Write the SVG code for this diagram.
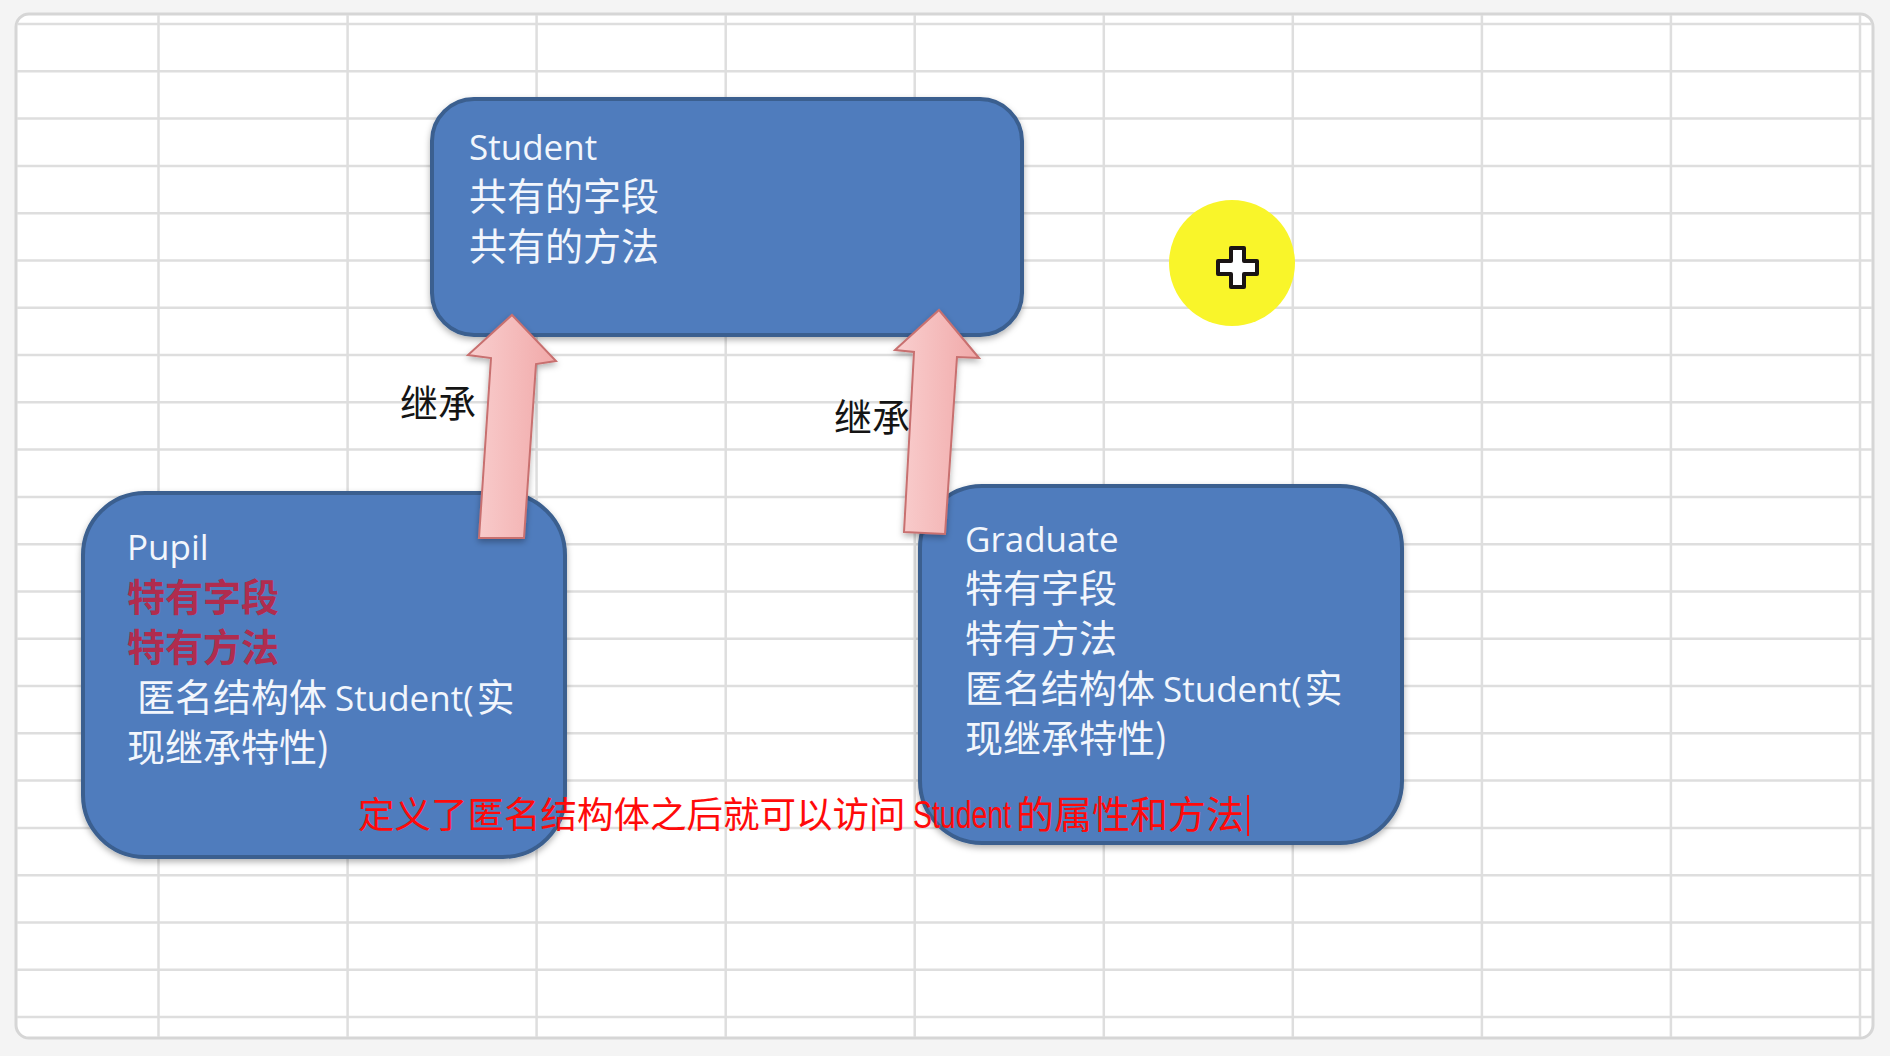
<svg xmlns="http://www.w3.org/2000/svg" width="1890" height="1056" viewBox="0 0 1890 1056">
  <style>
    .grid line { stroke: #dedede; stroke-width: 2.5; }
    .box { fill: #4f7bbd; stroke: #3a5f8f; stroke-width: 4; }
    .lat { font-family: "Open Sans", "Noto Sans", sans-serif; font-size: 35px; fill: #f2f6fc; }
    .cjk { font-family: "Noto Sans CJK SC", sans-serif; font-size: 38px; fill: #f2f6fc; }
    .red { fill: #b02c4e; font-weight: bold; }
    .lbl { font-family: "Noto Sans CJK SC", sans-serif; font-size: 38px; fill: #141414; }
    .arrow { fill: url(#pink); stroke: #c8706f; stroke-width: 2; }
    .cap { font-family: "Noto Sans CJK SC", sans-serif; font-size: 36.5px; fill: #ff0a0a; }
    .capl { font-family: "Liberation Sans", Arial, sans-serif; font-size: 38px; fill: #ff0a0a; }
  </style>
  <defs>
    <linearGradient id="pink" x1="0" y1="0" x2="1" y2="0">
      <stop offset="0" stop-color="#f9cfcf"/>
      <stop offset="1" stop-color="#f1a9a9"/>
    </linearGradient>
    <filter id="sh" x="-10%" y="-10%" width="120%" height="125%">
      <feDropShadow dx="0" dy="3" stdDeviation="3" flood-color="#000" flood-opacity="0.3"/>
    </filter>
    <clipPath id="frameClip">
      <rect x="17" y="15" width="1855" height="1022" rx="12"/>
    </clipPath>
  </defs>

  <rect x="0" y="0" width="1890" height="1056" fill="#f4f4f4"/>
  <rect x="16" y="14" width="1857" height="1024" rx="13" fill="#ffffff" stroke="#d6d6d6" stroke-width="3"/>

  <g class="grid" clip-path="url(#frameClip)">
    <line x1="17" y1="24" x2="1872" y2="24"/>
    <line x1="17" y1="71.3" x2="1872" y2="71.3"/>
    <line x1="17" y1="118.6" x2="1872" y2="118.6"/>
    <line x1="17" y1="165.9" x2="1872" y2="165.9"/>
    <line x1="17" y1="213.2" x2="1872" y2="213.2"/>
    <line x1="17" y1="260.5" x2="1872" y2="260.5"/>
    <line x1="17" y1="307.7" x2="1872" y2="307.7"/>
    <line x1="17" y1="355" x2="1872" y2="355"/>
    <line x1="17" y1="402.3" x2="1872" y2="402.3"/>
    <line x1="17" y1="449.6" x2="1872" y2="449.6"/>
    <line x1="17" y1="496.9" x2="1872" y2="496.9"/>
    <line x1="17" y1="544.2" x2="1872" y2="544.2"/>
    <line x1="17" y1="591.5" x2="1872" y2="591.5"/>
    <line x1="17" y1="638.8" x2="1872" y2="638.8"/>
    <line x1="17" y1="686" x2="1872" y2="686"/>
    <line x1="17" y1="733.3" x2="1872" y2="733.3"/>
    <line x1="17" y1="780.6" x2="1872" y2="780.6"/>
    <line x1="17" y1="827.9" x2="1872" y2="827.9"/>
    <line x1="17" y1="875.2" x2="1872" y2="875.2"/>
    <line x1="17" y1="922.5" x2="1872" y2="922.5"/>
    <line x1="17" y1="969.8" x2="1872" y2="969.8"/>
    <line x1="17" y1="1017" x2="1872" y2="1017"/>
    <line x1="158.5" y1="15" x2="158.5" y2="1037"/>
    <line x1="347.6" y1="15" x2="347.6" y2="1037"/>
    <line x1="536.6" y1="15" x2="536.6" y2="1037"/>
    <line x1="725.7" y1="15" x2="725.7" y2="1037"/>
    <line x1="914.7" y1="15" x2="914.7" y2="1037"/>
    <line x1="1103.8" y1="15" x2="1103.8" y2="1037"/>
    <line x1="1292.8" y1="15" x2="1292.8" y2="1037"/>
    <line x1="1481.9" y1="15" x2="1481.9" y2="1037"/>
    <line x1="1670.9" y1="15" x2="1670.9" y2="1037"/>
    <line x1="1860" y1="15" x2="1860" y2="1037"/>
  </g>

  <g id="node-student">
    <rect class="box" x="432" y="99" width="590" height="236" rx="42" filter="url(#sh)"/>
    <text class="lat" x="469" y="160">Student</text>
    <text class="cjk" x="469" y="210">共有的字段</text>
    <text class="cjk" x="469" y="260">共有的方法</text>
  </g>

  <g id="node-pupil">
    <rect class="box" x="83" y="493" width="482" height="364" rx="62" filter="url(#sh)"/>
    <text class="lat" x="127" y="560">Pupil</text>
    <text class="cjk red" x="127" y="611">特有字段</text>
    <text class="cjk red" x="127" y="661">特有方法</text>
    <text class="cjk" x="137" y="711">匿名结构体<tspan class="lat" dx="8">Student(</tspan><tspan dx="3">实</tspan></text>
    <text class="cjk" x="127" y="761">现继承特性)</text>
  </g>

  <g id="node-graduate">
    <rect class="box" x="920" y="486" width="482" height="357" rx="62" filter="url(#sh)"/>
    <text class="lat" x="965" y="552">Graduate</text>
    <text class="cjk" x="965" y="602">特有字段</text>
    <text class="cjk" x="965" y="652">特有方法</text>
    <text class="cjk" x="965" y="702">匿名结构体<tspan class="lat" dx="8">Student(</tspan><tspan dx="3">实</tspan></text>
    <text class="cjk" x="965" y="752">现继承特性)</text>
  </g>

  <g id="connectors">
    <text class="lbl" x="400" y="417">继承</text>
    <text class="lbl" x="834" y="431">继承</text>
    <polygon class="arrow" filter="url(#sh)" points="512,315 556,361 536,364 524,538 479,538 491,358 468,355"/>
    <polygon class="arrow" filter="url(#sh)" points="939,310 979,358 957,357 945,534 904,532 914,352 895,350"/>
  </g>

  <g id="caption">
    <text class="cap" x="358" y="828">定义了匿名结构体之后就可以访问<tspan class="capl" x="913" textLength="98" lengthAdjust="spacingAndGlyphs">Student</tspan><tspan x="1016" style="font-size:38px">的属性和方法</tspan></text>
    <line x1="1248" y1="795" x2="1248" y2="836" stroke="#ff0a0a" stroke-width="2"/>
  </g>

  <g id="pointer">
    <circle cx="1232" cy="263" r="63" fill="#f9f52a"/>
    <path d="M1231,248 h13 v13 h13 v13 h-13 v13 h-13 v-13 h-13 v-13 h13 z" fill="#ffffff" stroke="#1a1414" stroke-width="4" stroke-linejoin="round"/>
  </g>
</svg>
